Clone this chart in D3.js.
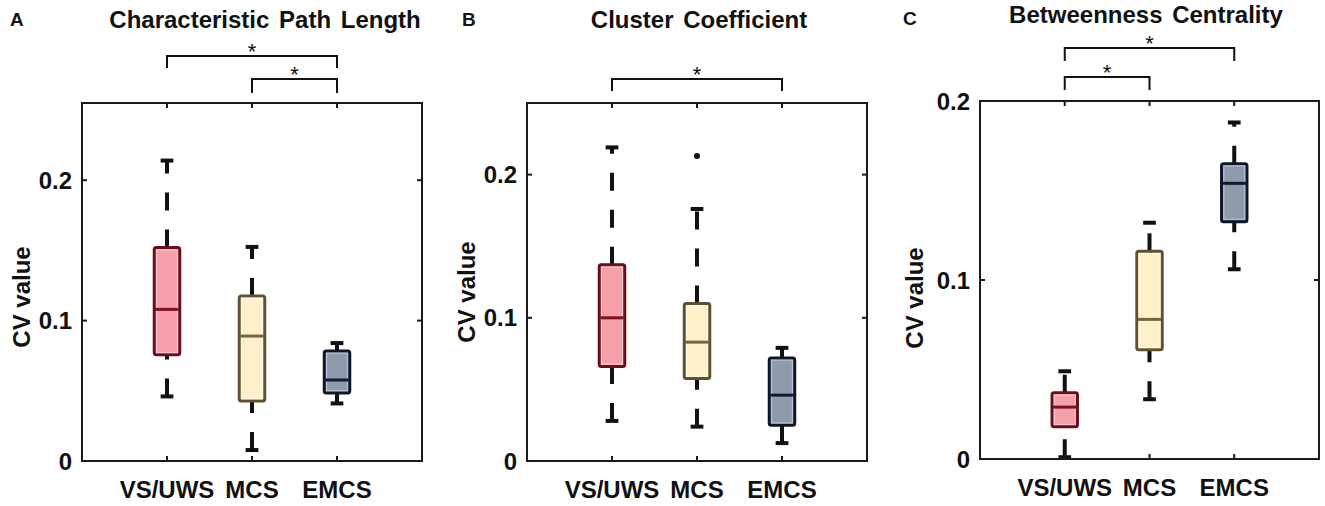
<!DOCTYPE html>
<html>
<head>
<meta charset="utf-8">
<script src="https://cdn.jsdelivr.net/npm/d3@7"></script>
<style>
  body { margin: 0; background: #fff; }
  text { font-family: "Liberation Sans", Arial, sans-serif; fill: #111; }
</style>
</head>
<body>
<div id="graph"></div>
<script>
// Data
const categories = ["VS/UWS", "MCS", "EMCS"]
const titles = ["Characteristic Path Length", "Cluster Coefficient", "Betweenness Centrality"]
const panelLetters = ["A", "B", "C"]
const yTicks = [0, 0.1, 0.2]
const yMaxes = [0.255, 0.25, 0.2]

// [lower whisker, q1, median, q3, upper whisker] for each category
const pathLength = [
    [0.046, 0.0756, 0.108, 0.152, 0.214],
    [0.0078, 0.0428, 0.089, 0.1176, 0.1525],
    [0.041, 0.0485, 0.0577, 0.0784, 0.084]
]
const clusterCoef = [
    [0.028, 0.066, 0.100, 0.137, 0.219],
    [0.024, 0.0576, 0.083, 0.110, 0.176],
    [0.0125, 0.025, 0.046, 0.072, 0.079]
]
const betweenness = [
    [0.001, 0.018, 0.029, 0.037, 0.049],
    [0.0334, 0.061, 0.078, 0.116, 0.132],
    [0.106, 0.1326, 0.154, 0.165, 0.188]
]
const pathLengthOutliers = []
const clusterOutliers = [{ cat: 1, value: 0.213 }]
const betweennessOutliers = []

// significance brackets (category index pairs)
const pathLengthSig = [[0, 2], [1, 2]]
const clusterSig = [[0, 2]]
const betweennessSig = [[0, 2], [0, 1]]

const stats = [pathLength, clusterCoef, betweenness]
const outliers = [pathLengthOutliers, clusterOutliers, betweennessOutliers]
const sigs = [pathLengthSig, clusterSig, betweennessSig]

// Styles
const fills = ["#F59FA8", "#FEF1CA", "#8F9AAD"]
const edges = ["#6A0E1B", "#5F5032", "#0C1628"]
const inners = ["#FAC6CB", "#FFF9E6", "#B9C1CE"]
const medians = ["#7B1422", "#76643E", "#0E1A2E"]

// Layout (pixel boxes of each axes)
const panels = [
    { left: 82, right: 422, top: 103, bottom: 461, yLab: 52, yLabY: 297, titleX: 265, titleY: 28, letterX: 10, letterY: 26, sig: [[47, 35], [24, 10]] },
    { left: 527, right: 867, top: 103, bottom: 461, yLab: 52, yLabY: 292, titleX: 699, titleY: 28, letterX: 462, letterY: 26, sig: [[24, 12]] },
    { left: 980, right: 1319, top: 101, bottom: 459, yLab: 57, yLabY: 298, titleX: 1146, titleY: 23, letterX: 903, letterY: 25, sig: [[53, 40], [24, 11]] }
]

const svg = d3.select("#graph").append("svg")
    .attr("width", 1325)
    .attr("height", 506)

panels.forEach((p, i) => {
    const x = d3.scaleLinear().domain([0, 4]).range([p.left, p.right])
    const y = d3.scaleLinear().domain([0, yMaxes[i]]).range([p.bottom, p.top])
    const boxW = x(0.3) - x(0)
    const capW = x(0.15) - x(0)
    const g = svg.append("g")

    // Whiskers (drawn bottom to top so dashes start at the lower end)
    stats[i].forEach((s, c) => {
        const cx = x(c + 1)
        g.append("line")
            .attr("x1", cx).attr("x2", cx)
            .attr("y1", y(s[3])).attr("y2", y(s[4]))
            .attr("stroke", "#111").attr("stroke-width", 4)
            .attr("stroke-dasharray", "18,19")
        g.append("line")
            .attr("x1", cx).attr("x2", cx)
            .attr("y1", y(s[0])).attr("y2", y(s[1]))
            .attr("stroke", "#111").attr("stroke-width", 4)
            .attr("stroke-dasharray", "18,19")
        // caps
        g.selectAll(null)
            .data([s[0], s[4]])
            .enter().append("line")
            .attr("x1", cx - capW / 2).attr("x2", cx + capW / 2)
            .attr("y1", d => y(d)).attr("y2", d => y(d))
            .attr("stroke", "#111").attr("stroke-width", 4)
    })

    // Boxes
    const boxes = g.selectAll("box")
        .data(stats[i])
        .enter().append("g")
    boxes.append("rect")
        .attr("x", (d, c) => x(c + 1) - boxW / 2)
        .attr("y", d => y(d[3]))
        .attr("width", boxW)
        .attr("height", d => y(d[1]) - y(d[3]))
        .attr("rx", 2)
        .attr("fill", (d, c) => fills[c])
        .attr("stroke", (d, c) => edges[c])
        .attr("stroke-width", 3)
    boxes.append("rect")
        .attr("x", (d, c) => x(c + 1) - boxW / 2 + 2.3)
        .attr("y", d => y(d[3]) + 2.3)
        .attr("width", boxW - 4.6)
        .attr("height", d => y(d[1]) - y(d[3]) - 4.6)
        .attr("fill", "none")
        .attr("stroke", (d, c) => inners[c])
        .attr("stroke-width", 1.2)
    boxes.append("line")
        .attr("x1", (d, c) => x(c + 1) - boxW / 2 + 1)
        .attr("x2", (d, c) => x(c + 1) + boxW / 2 - 1)
        .attr("y1", d => y(d[2]))
        .attr("y2", d => y(d[2]))
        .attr("stroke", (d, c) => medians[c])
        .attr("stroke-width", 3)

    // Outliers
    g.selectAll("outlier")
        .data(outliers[i])
        .enter().append("circle")
        .attr("cx", d => x(d.cat + 1))
        .attr("cy", d => y(d.value))
        .attr("r", 3)
        .attr("fill", "#111")

    // Axes frame with inward ticks on all sides
    const tickLen = 5
    g.append("rect")
        .attr("x", p.left).attr("y", p.top)
        .attr("width", p.right - p.left).attr("height", p.bottom - p.top)
        .attr("fill", "none").attr("stroke", "#1a1a1a").attr("stroke-width", 2)
    const catPos = categories.map((c, k) => x(k + 1))
    g.selectAll("xtick")
        .data(catPos)
        .enter().append("line")
        .attr("x1", d => d).attr("x2", d => d)
        .attr("y1", p.bottom).attr("y2", p.bottom - tickLen)
        .attr("stroke", "#1a1a1a").attr("stroke-width", 2)
    g.selectAll("xtickTop")
        .data(catPos)
        .enter().append("line")
        .attr("x1", d => d).attr("x2", d => d)
        .attr("y1", p.top).attr("y2", p.top + tickLen)
        .attr("stroke", "#1a1a1a").attr("stroke-width", 2)
    const yt = yTicks.filter(t => t <= yMaxes[i])
    g.selectAll("ytick")
        .data(yt)
        .enter().append("line")
        .attr("x1", p.left).attr("x2", p.left + tickLen)
        .attr("y1", d => y(d)).attr("y2", d => y(d))
        .attr("stroke", "#1a1a1a").attr("stroke-width", 2)
    g.selectAll("ytickRight")
        .data(yt)
        .enter().append("line")
        .attr("x1", p.right).attr("x2", p.right - tickLen)
        .attr("y1", d => y(d)).attr("y2", d => y(d))
        .attr("stroke", "#1a1a1a").attr("stroke-width", 2)

    // Tick labels
    g.selectAll("ylabel")
        .data(yt)
        .enter().append("text")
        .attr("x", p.left - 10)
        .attr("y", d => y(d))
        .attr("dy", "0.36em")
        .attr("text-anchor", "end")
        .attr("font-size", "24px")
        .attr("font-weight", "bold")
        .text(d => d === 0 ? "0" : d3.format(".1f")(d))
    g.selectAll("xlabel")
        .data(categories)
        .enter().append("text")
        .attr("x", (d, k) => x(k + 1))
        .attr("y", p.bottom + 37)
        .attr("text-anchor", "middle")
        .attr("font-size", "24px")
        .attr("font-weight", "bold")
        .text(d => d)

    // Axis label, title, panel letter
    g.append("text")
        .attr("transform", `translate(${p.left - p.yLab}, ${p.yLabY}) rotate(-90)`)
        .attr("text-anchor", "middle")
        .attr("font-size", "24px")
        .attr("font-weight", "bold")
        .text("CV value")
    g.append("text")
        .attr("x", p.titleX).attr("y", p.titleY)
        .attr("text-anchor", "middle")
        .attr("font-size", "24px")
        .attr("font-weight", "bold")
        .attr("word-spacing", "3px")
        .text(titles[i])
    g.append("text")
        .attr("x", p.letterX).attr("y", p.letterY)
        .attr("font-size", "19px")
        .attr("font-weight", "bold")
        .text(panelLetters[i])

    // Significance brackets
    sigs[i].forEach((pair, k) => {
        const barY = p.top - p.sig[k][0]
        const legY = p.top - p.sig[k][1]
        const x1 = x(pair[0] + 1), x2 = x(pair[1] + 1)
        g.append("path")
            .attr("d", `M${x1},${legY}V${barY}H${x2}V${legY}`)
            .attr("fill", "none")
            .attr("stroke", "#111")
            .attr("stroke-width", 2)
        g.append("text")
            .attr("x", (x1 + x2) / 2)
            .attr("y", barY + 3)
            .attr("text-anchor", "middle")
            .attr("font-size", "22px")
            .text("*")
    })
})
</script>
</body>
</html>
